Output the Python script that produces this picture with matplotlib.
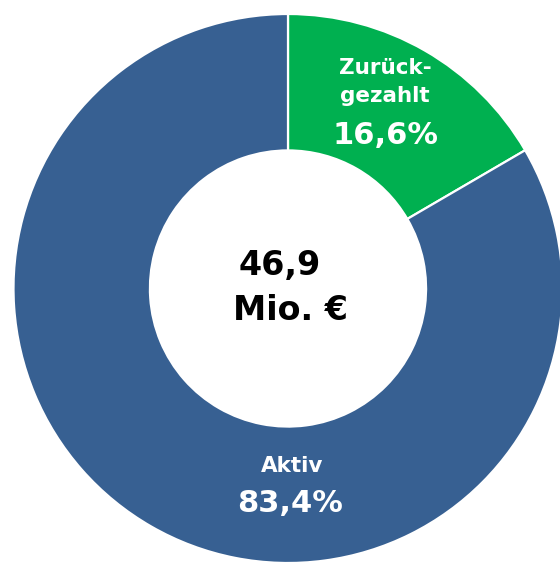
import matplotlib.pyplot as plt

# data
labels = ['Zurück-\ngezahlt', 'Aktiv']
shares = [16.6, 83.4]
colors = ['#00B050', '#376092']
total = 46.9
unit = 'Mio. €'

W, H = 560, 562
cx, cy, R = 288, 288.5, 274.5

fig = plt.figure(figsize=(W / 100, H / 100), dpi=100)
ax = fig.add_axes([0, 0, 1, 1])

ax.pie(shares, startangle=90, counterclock=False, colors=colors, radius=1,
       wedgeprops=dict(width=0.497, edgecolor='white', linewidth=1.6))
ax.set_xlim(-cx / R, (W - cx) / R)
ax.set_ylim(-(H - cy) / R, cy / R)
ax.set_aspect('auto')
ax.axis('off')


def px(x, y):
    # pixel position (from top-left) -> data coords
    return (x - cx) / R, (cy - y) / R


def fmt(v):
    return f"{v:.1f}".replace('.', ',')


font = dict(family='DejaVu Sans', fontweight='bold', ha='center', va='center')

# segment labels
ax.text(*px(385, 82), labels[0], color='white', fontsize=15.5, linespacing=1.5, **font)
ax.text(*px(385, 135), fmt(shares[0]) + '%', color='white', fontsize=22, **font)
ax.text(*px(292, 466), labels[1], color='white', fontsize=15.5, **font)
ax.text(*px(290, 503), fmt(shares[1]) + '%', color='white', fontsize=22, **font)

# centre total
ax.text(*px(280, 265), fmt(total), color='black', fontsize=24, **font)
ax.text(*px(290, 311), unit, color='black', fontsize=24, **font)

fig.savefig('out.png', dpi=100)
